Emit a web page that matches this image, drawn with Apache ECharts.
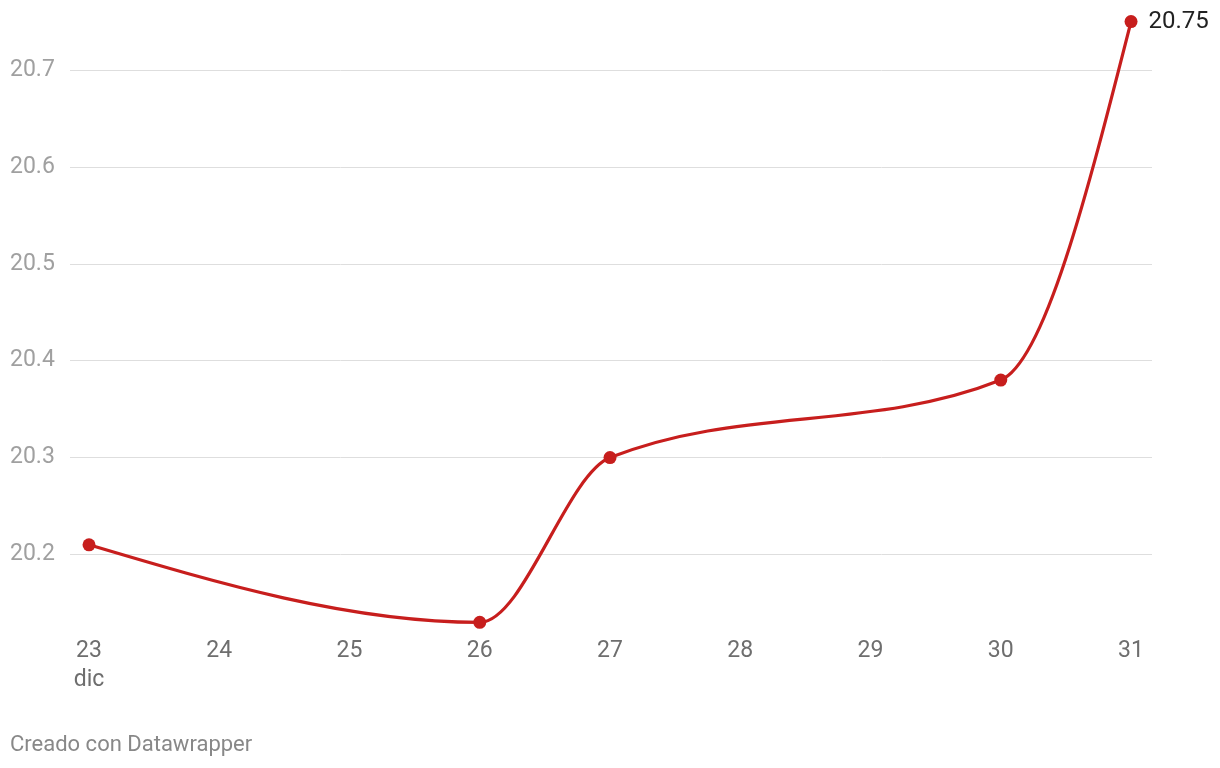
<!DOCTYPE html>
<html>
<head>
<meta charset="utf-8">
<script src="https://cdn.jsdelivr.net/npm/echarts@6/dist/echarts.min.js"></script>
<style>
html,body{margin:0;padding:0;background:#fff;}
#c{width:1220px;height:768px;}
</style>
</head>
<body>
<div id="c"></div>
<script>
const days = [23, 26, 27, 30, 31];
const values = [20.21, 20.13, 20.30, 20.38, 20.75];
const xTicks = [23, 24, 25, 26, 27, 28, 29, 30, 31];
const monthLabel = 'dic';
const yTicks = [20.2, 20.3, 20.4, 20.5, 20.6, 20.7];
const footer = 'Creado con Datawrapper';

const chart = echarts.init(document.getElementById('c'));
const font = 'Roboto, "Noto Sans", sans-serif';
const data = days.map((d, i) => [d, values[i]]);
const RED = '#c71e1d';

// monotone-x cubic (same as d3.curveMonotoneX) through pixel points
function monotonePath(pts) {
  const n = pts.length;
  const sign = v => (v < 0 ? -1 : 1);
  const t = new Array(n).fill(0);
  for (let i = 1; i < n - 1; i++) {
    const h0 = pts[i][0] - pts[i - 1][0];
    const h1 = pts[i + 1][0] - pts[i][0];
    const s0 = (pts[i][1] - pts[i - 1][1]) / h0;
    const s1 = (pts[i + 1][1] - pts[i][1]) / h1;
    const p = (s0 * h1 + s1 * h0) / (h0 + h1);
    t[i] = (sign(s0) + sign(s1)) * Math.min(Math.abs(s0), Math.abs(s1), 0.5 * Math.abs(p)) || 0;
  }
  {
    const h = pts[1][0] - pts[0][0];
    t[0] = (3 * (pts[1][1] - pts[0][1]) / h - t[1]) / 2;
    const hn = pts[n - 1][0] - pts[n - 2][0];
    t[n - 1] = (3 * (pts[n - 1][1] - pts[n - 2][1]) / hn - t[n - 2]) / 2;
  }
  let d = 'M' + pts[0][0] + ' ' + pts[0][1];
  for (let i = 0; i < n - 1; i++) {
    const x0 = pts[i][0], y0 = pts[i][1], x1 = pts[i + 1][0], y1 = pts[i + 1][1];
    const dx = (x1 - x0) / 3;
    d += ' C' + (x0 + dx) + ' ' + (y0 + dx * t[i]) + ' ' + (x1 - dx) + ' ' + (y1 - dx * t[i + 1]) + ' ' + x1 + ' ' + y1;
  }
  return d;
}

chart.setOption({
  animation: false,
  backgroundColor: '#fff',
  textStyle: { fontFamily: font },
  grid: { left: 70, right: 68, top: 70, bottom: 116.6, containLabel: false },
  xAxis: {
    type: 'value',
    min: 22.854,
    max: 31.161,
    offset: -15,
    axisLine: { show: false },
    axisTick: { show: false },
    splitLine: { show: false },
    axisLabel: {
      customValues: xTicks,
      color: '#6e6e6e',
      fontSize: 23,
      fontFamily: font,
      lineHeight: 29,
      margin: 0,
      verticalAlign: 'top',
      formatter: v => (v === xTicks[0] ? v + '\n' + monthLabel : String(v))
    }
  },
  yAxis: {
    type: 'value',
    min: 20.1,
    max: 20.7,
    interval: 0.1,
    axisLine: { show: false },
    axisTick: { show: false },
    splitLine: {
      show: true,
      lineStyle: { color: ['rgba(0,0,0,0)', '#dedede', '#dedede', '#dedede', '#dedede', '#dedede', '#dedede'], width: 1 }
    },
    axisLabel: {
      color: '#a0a0a0',
      fontSize: 23,
      fontFamily: font,
      align: 'left',
      margin: 60,
      formatter: v => {
        const r = Math.round(v * 10) / 10;
        return yTicks.some(t => Math.abs(t - r) < 1e-6) ? r.toFixed(1) : '';
      }
    }
  },
  series: [{
    type: 'custom',
    data: data,
    clip: false,
    silent: true,
    z: 2,
    renderItem: (params, api) => {
      if (params.dataIndex !== 0) return null;
      const pts = data.map(p => api.coord(p));
      return {
        type: 'path',
        shape: { pathData: monotonePath(pts) },
        style: { fill: null, stroke: RED, lineWidth: 3.2 }
      };
    }
  }, {
    type: 'scatter',
    data: data,
    clip: false,
    z: 3,
    symbol: 'circle',
    symbolSize: 13,
    itemStyle: { color: RED, opacity: 1 },
    label: {
      show: true,
      position: 'right',
      distance: 11,
      color: '#222',
      fontSize: 24,
      fontFamily: font,
      formatter: p => (p.dataIndex === days.length - 1 ? values[p.dataIndex].toFixed(2) : '')
    }
  }],
  graphic: [{
    type: 'text',
    left: 10,
    top: 734,
    style: { text: footer, fill: '#888', fontSize: 22, fontFamily: font }
  }]
});
</script>
</body>
</html>
